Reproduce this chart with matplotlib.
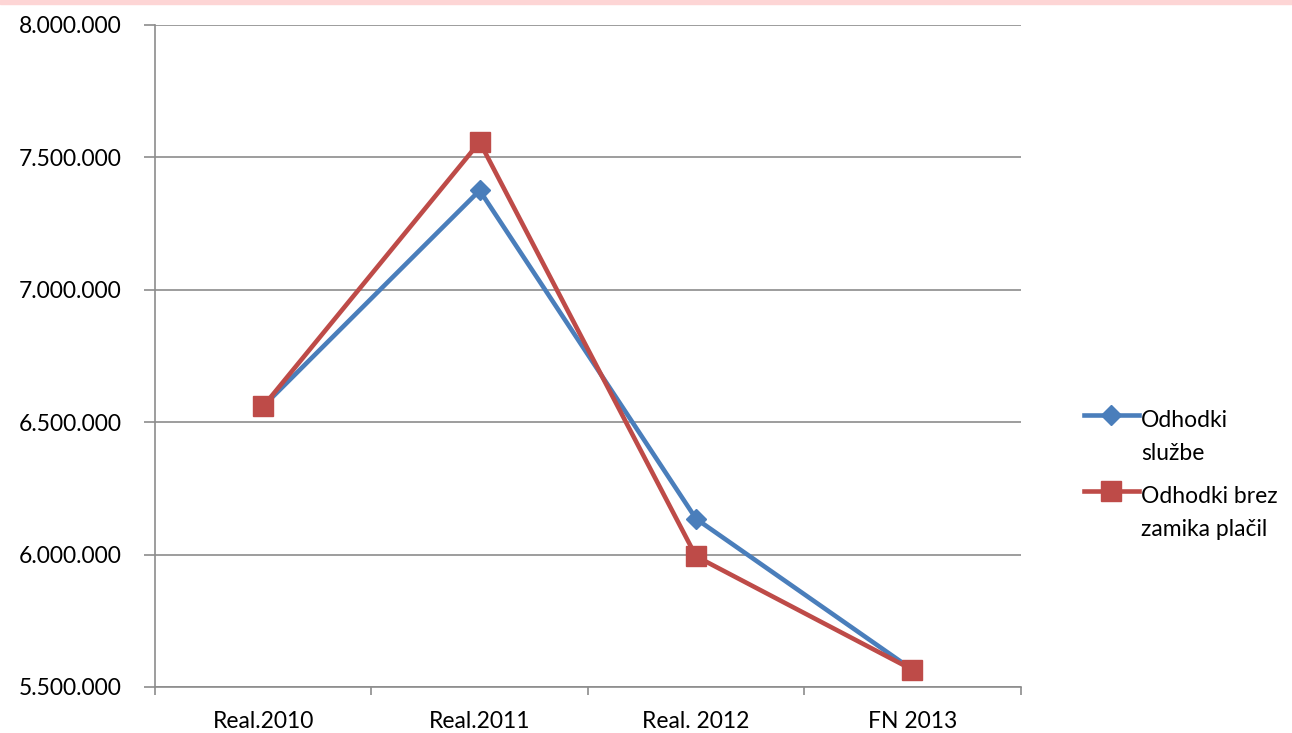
import numpy as np
import matplotlib.pyplot as plt
from matplotlib.ticker import FuncFormatter, FixedLocator
from matplotlib.patches import Rectangle

kategorije = ['Real.2010', 'Real.2011', 'Real. 2012', 'FN 2013']
odhodki_sluzbe = [6560000, 7375000, 6135000, 5565000]
odhodki_brez = [6560000, 7558000, 5993000, 5565000]
oznake = ['Odhodki\nslužbe', 'Odhodki brez\nzamika plačil']

plt.rcParams['font.family'] = ['Lato', 'DejaVu Sans']

fig = plt.figure(figsize=(12.92, 7.33), dpi=100)
fig.patches.append(Rectangle((0, 0.994), 1, 0.006, transform=fig.transFigure,
                             color='#fdd5d5', zorder=0))
ax = fig.add_axes([0.12, 0.0628, 0.67, 0.9032])

x = np.arange(len(kategorije))
ax.plot(x, odhodki_sluzbe, color='#4a7ebb', lw=3.3, marker='D', ms=10,
        label=oznake[0], zorder=3)
ax.plot(x, odhodki_brez, color='#be4b48', lw=3.3, marker='s', ms=14,
        label=oznake[1], zorder=3)

ax.set_xlim(-0.5, 3.5)
ax.set_ylim(5500000, 8000000)
ax.set_yticks(np.arange(5500000, 8000001, 500000))
ax.yaxis.set_major_formatter(FuncFormatter(lambda v, p: f'{int(v):,}'.replace(',', '.')))
ax.grid(axis='y', color='#8c8c8c', lw=1.2)
ax.set_axisbelow(True)

ax.set_xticks(x)
ax.set_xticklabels(kategorije)
ax.xaxis.set_minor_locator(FixedLocator(np.arange(-0.5, 4, 1)))
ax.tick_params(axis='x', which='major', length=0, pad=17)
ax.tick_params(axis='x', which='minor', length=6, color='#8c8c8c', width=1.2)
ax.tick_params(axis='y', length=8, color='#8c8c8c', width=1.2, pad=16)
ax.tick_params(labelsize=16.5)

for s in ['top', 'right']:
    ax.spines[s].set_visible(False)
for s in ['left', 'bottom']:
    ax.spines[s].set_color('#8c8c8c')
    ax.spines[s].set_linewidth(1.2)

leg = fig.legend(loc='center left', bbox_to_anchor=(0.823, 0.352), frameon=False,
                 fontsize=16.5, handlelength=2.4, handletextpad=0.1, labelspacing=0.95)
for t in leg.get_texts():
    t.set_linespacing(1.72)
for h in leg.legend_handles:
    h.set_ydata(np.asarray(h.get_ydata()) + 16)

plt.savefig('out.png', dpi=100)
